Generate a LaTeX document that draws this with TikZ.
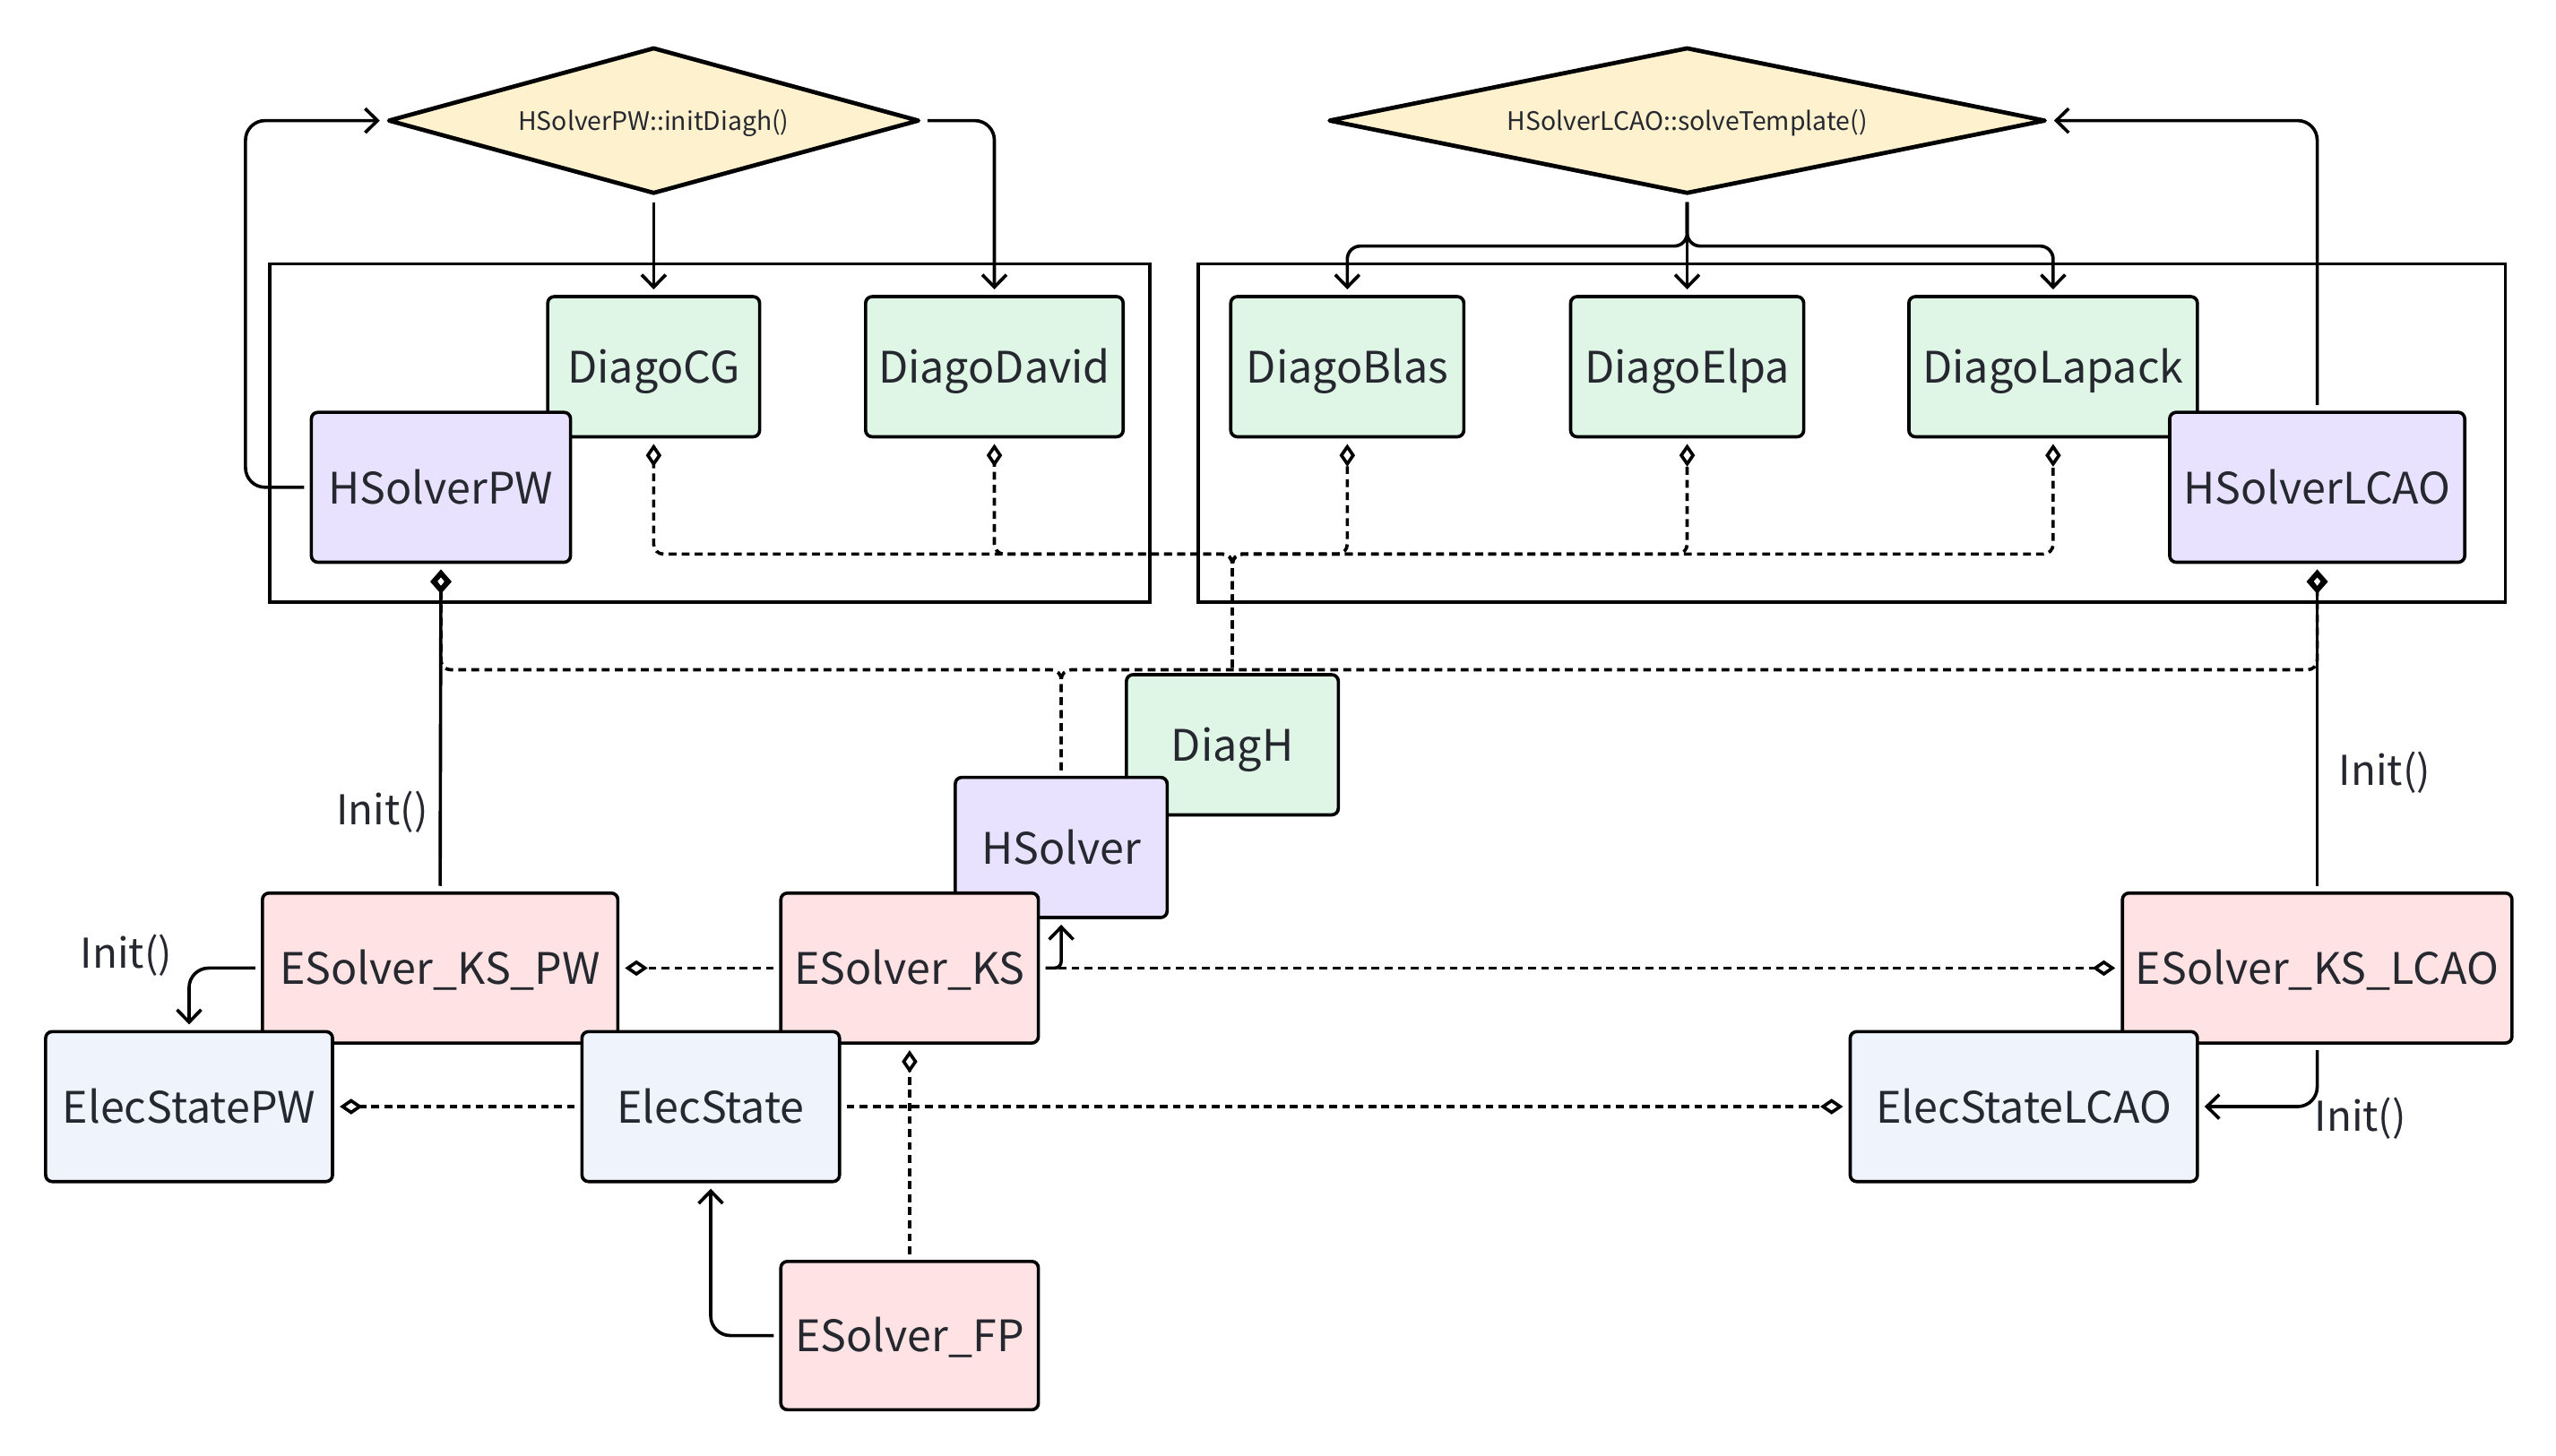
\documentclass[tikz,border=0pt]{standalone}
\usepackage{fontspec}
\setmainfont{Noto Sans CJK SC}
\usepackage{xcolor}
\usetikzlibrary{arrows.meta,shapes.geometric,calc}
\definecolor{ink}{HTML}{25282F}
\definecolor{yel}{HTML}{FEF1CE}
\definecolor{grn}{HTML}{DFF5E5}
\definecolor{pur}{HTML}{E8E2FE}
\definecolor{pnk}{HTML}{FFE3E4}
\definecolor{blu}{HTML}{EFF3FC}
\tikzset{
	box/.style={draw, line width=1pt, rounded corners=2pt, inner sep=0pt, outer sep=2.2pt,
			text=ink, font=\fontsize{13.3}{16}\selectfont, text height=10pt, text depth=0pt},
	diago/.style={box, fill=grn, minimum height=43pt},
	hsol/.style={box, fill=pur},
	esol/.style={box, fill=pnk, minimum height=46pt},
	elec/.style={box, fill=blu, minimum height=46pt},
	choice/.style={draw, diamond, fill=yel, line width=1.3pt, line join=round, inner sep=0pt,
			outer sep=2pt, minimum height=46pt, text=ink, font=\fontsize{7.8}{9}\selectfont,
			text height=6pt, text depth=0pt},
	lbl/.style={text=ink, inner sep=0pt, font=\fontsize{12.6}{15}\selectfont}
}

\begin{document}
\begin{tikzpicture}[x=0.5pt, y=-0.5pt]
    \useasboundingbox (0,0) rectangle (1568,893);

    \tikzset{arr/.style={line width=1pt, rounded corners=6pt, -{Straight Barb[length=3.8pt, width=7.4pt]}},
             agg/.style={line width=1pt, rounded corners=3pt, dash pattern=on 2.4pt off 1.6pt,
                         -{Diamond[open, length=7pt, width=4.8pt]}},
             own/.style={line width=1pt, -{Diamond[open, length=7.5pt, width=6.6pt, line width=1.6pt]}}}

    \draw[line width=1pt] (165.5,162) rectangle (705.5,369.5);
    \draw[line width=1pt] (735,162) rectangle (1537,369.5);

    \node[choice, aspect=3.57, minimum width=164pt] (initPW) at (401,74) {HSolverPW::initDiagh()};
    \node[choice, aspect=4.8, minimum width=221pt] (solveLCAO) at (1035,74) {HSolverLCAO::solveTemplate()};

    \node[diago, minimum width=65pt]   (DiagoCG)    at (401,225)    {DiagoCG};
    \node[diago, minimum width=79pt]   (DiagoDavid) at (610,225)    {DiagoDavid};
    \node[hsol, minimum width=79.5pt, minimum height=46pt] (HSolverPW) at (270.5,299) {HSolverPW};
    \node[diago, minimum width=71.5pt] (DiagoBlas)   at (826.5,225)  {DiagoBlas};
    \node[diago, minimum width=71.5pt] (DiagoElpa)   at (1035,225)   {DiagoElpa};
    \node[diago, minimum width=88.5pt] (DiagoLapack) at (1259.5,225) {DiagoLapack};
    \node[hsol, minimum width=90.5pt, minimum height=46pt] (HSolverLCAO) at (1421.5,299) {HSolverLCAO};

    \node[diago, minimum width=65pt] (DiagH) at (756,457) {DiagH};
    \node[hsol, minimum width=65pt, minimum height=43pt] (HSolver) at (651,520) {HSolver};

    \node[esol, minimum width=109pt]   (ESolverKSPW)   at (270,594)    {ESolver\_KS\_PW};
    \node[esol, minimum width=79pt]    (ESolverKS)     at (558,594)    {ESolver\_KS};
    \node[esol, minimum width=119.5pt] (ESolverKSLCAO) at (1421.5,594) {ESolver\_KS\_LCAO};
    \node[elec, minimum width=88pt]    (ElecStatePW)   at (116,679)    {ElecStatePW};
    \node[elec, minimum width=79pt]    (ElecState)     at (436,679)    {ElecState};
    \node[elec, minimum width=106.5pt] (ElecStateLCAO) at (1241.5,679) {ElecStateLCAO};
    \node[esol, minimum width=79pt, minimum height=45.5pt] (ESolverFP) at (558,819.5) {ESolver\_FP};

    \coordinate (hub)  at (756,340);
    \coordinate (bus)  at (651,411);
    \coordinate (fork) at (1035,151);

    \draw[arr] (HSolverPW.west) -- ++(-36,0) |- (initPW.west);
    \draw[arr] (initPW.south) -- (DiagoCG.north);
    \draw[arr] (initPW.east) -| (DiagoDavid.north);
    \draw[arr] (HSolverLCAO.north) |- (solveLCAO.east);
    \draw[arr, rounded corners=4pt] (solveLCAO.south) -- (fork) -| (DiagoBlas.north);
    \draw[arr] (solveLCAO.south) -- (DiagoElpa.north);
    \draw[arr, rounded corners=4pt] (solveLCAO.south) -- (fork) -| (DiagoLapack.north);

    \draw[agg] (DiagH.north) |- (DiagoCG.south |- hub) -- (DiagoCG.south);
    \draw[agg] (DiagH.north) |- (DiagoDavid.south |- hub) -- (DiagoDavid.south);
    \draw[agg] (DiagH.north) |- (DiagoBlas.south |- hub) -- (DiagoBlas.south);
    \draw[agg] (DiagH.north) |- (DiagoElpa.south |- hub) -- (DiagoElpa.south);
    \draw[agg] (DiagH.north) |- (DiagoLapack.south |- hub) -- (DiagoLapack.south);

    \draw[agg] (HSolver.north) |- (HSolverPW.south |- bus) -- (HSolverPW.south);
    \draw[agg] (HSolver.north) |- (HSolverLCAO.south |- bus) -- (HSolverLCAO.south);

    \draw[own] (ESolverKSPW.north) -- (HSolverPW.south);
    \node[lbl] at (234.5,498) {Init()};
    \draw[own] (ESolverKSLCAO.north) -- (HSolverLCAO.south);
    \node[lbl] at (1463,474) {Init()};

    \draw[arr] (ESolverKSPW.west) -| (ElecStatePW.north);
    \node[lbl] at (77.5,586) {Init()};
    \draw[agg] (ESolverKS.west) -- (ESolverKSPW.east);
    \draw[agg] (ESolverKS.east) -- (ESolverKSLCAO.west);
    \draw[arr, rounded corners=2pt] (ESolverKS.east) -| (HSolver.south);
    \draw[agg] (ElecState.west) -- (ElecStatePW.east);
    \draw[agg] (ElecState.east) -- (ElecStateLCAO.west);
    \draw[agg] (ESolverFP.north) -- (ESolverKS.south);
    \draw[arr] (ESolverFP.west) -| (ElecState.south);
    \draw[arr] (ESolverKSLCAO.south) |- (ElecStateLCAO.east);
    \node[lbl] at (1448,686) {Init()};
\end{tikzpicture}
\end{document}
